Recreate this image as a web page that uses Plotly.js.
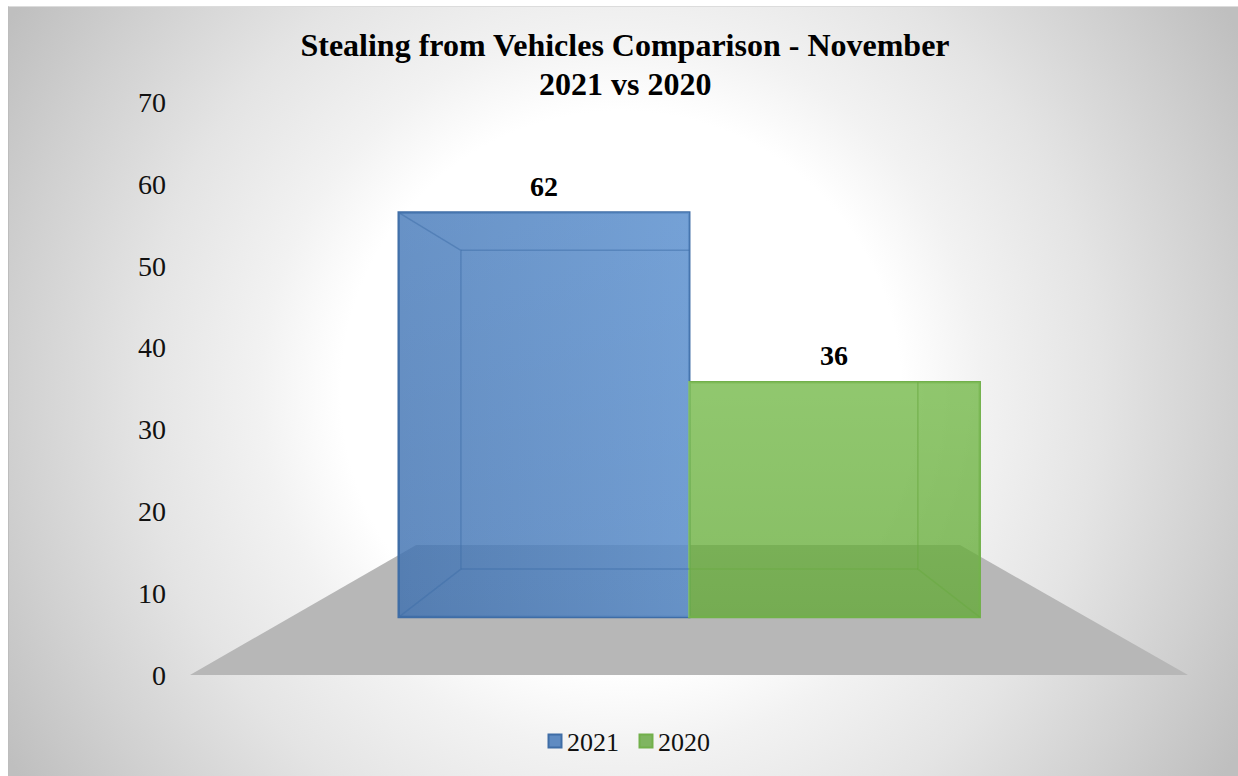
<!DOCTYPE html>
<html>
<head>
<meta charset="utf-8">
<script src="https://cdn.plot.ly/plotly-3.0.1.min.js"></script>
<style>
html,body{margin:0;padding:0;background:#fff;width:1238px;height:776px;overflow:hidden}
#frame{position:absolute;left:8px;top:6px;width:1230px;height:770px;border-top:1px solid #dcdcdc;border-left:1px solid #bdbdbd;box-sizing:border-box;
background:radial-gradient(circle at 612px 384px,#fff 0,#fff 280px,#f2f2f2 360px,#e4e4e4 480px,#d0d0d0 610px,#bfbfbf 715px)}
#chart{position:absolute;left:0;top:0;width:1238px;height:776px}
.legend .legendtext{transform:translateX(-8px)}
</style>
</head>
<body>
<div id="frame"></div>
<div id="chart"></div>
<script>
// Data
var categories = ['2021', '2020'];
var values = [62, 36];
var yTicks = [0, 10, 20, 30, 40, 50, 60, 70];
var titleLines = ['Stealing from Vehicles Comparison - November', '2021 vs 2020'];

// Pseudo-3D projection of the box chart onto the flat axes
var FRONT_BASE = 7.08, FRONT_SCALE = 0.797;
var BACK_BASE = 12.94, BACK_SCALE = 0.628;
var BACK_LEFT = -0.286, BACK_RIGHT = 1.287;
var FLOOR = {x0: -1.2186, x1: 2.217, bx0: -0.44, bx1: 1.432, back: 15.87};
var colors = ['rgba(62,112,176,0.82)', 'rgba(96,168,50,0.76)'];
var lines = ['#3f6da6', '#72b04b'];
var inner = ['rgba(61,109,168,0.5)', 'rgba(106,170,66,0.6)'];
var swatchFill = ['#5f8bc2', '#7fb560'];
var serif = '"Liberation Serif", serif';

function frontTop(v){ return FRONT_BASE + v * FRONT_SCALE; }
function backTop(v){ return BACK_BASE + v * BACK_SCALE; }

var traces = [];
categories.forEach(function(c, i){
  traces.push({
    type: 'bar', name: c, x: [i], y: [values[i] * FRONT_SCALE], base: [FRONT_BASE], width: [1],
    marker: {color: colors[i], line: {color: lines[i], width: 2.5}},
    hoverinfo: 'skip', showlegend: false
  });
});

function overlay(i, type, stops){
  var l = i - 0.5, r = i + 0.5, t = frontTop(values[i]);
  return {type: 'scatter', mode: 'none', x: [l, r, r, l, l], y: [FRONT_BASE, FRONT_BASE, t, t, FRONT_BASE],
    fill: 'toself', fillgradient: {type: type, colorscale: stops}, hoverinfo: 'skip', showlegend: false};
}
traces.push(overlay(0, 'horizontal', [[0, 'rgba(150,200,255,0)'], [1, 'rgba(150,200,255,0.28)']]));
traces.push(overlay(0, 'vertical', [[0, 'rgba(150,200,255,0)'], [1, 'rgba(150,200,255,0.13)']]));
traces.push(overlay(1, 'vertical', [[0, 'rgba(200,255,170,0)'], [1, 'rgba(200,255,170,0.16)']]));

function seg(xs, ys, color){
  return {type: 'scatter', mode: 'lines', x: xs, y: ys, line: {color: color, width: 1.5}, hoverinfo: 'skip', showlegend: false};
}
// blue box inner edges
var v0 = values[0], v1 = values[1];
traces.push(seg([-0.5, BACK_LEFT, BACK_LEFT, -0.5], [frontTop(v0), backTop(v0), BACK_BASE, FRONT_BASE], inner[0]));
traces.push(seg([BACK_LEFT, 0.5], [backTop(v0), backTop(v0)], inner[0]));
traces.push(seg([BACK_LEFT, 0.5], [BACK_BASE, BACK_BASE], inner[0]));
// green box inner edges
traces.push(seg([0.5, BACK_RIGHT], [BACK_BASE, BACK_BASE], inner[1]));
traces.push(seg([BACK_RIGHT, BACK_RIGHT, 1.5], [frontTop(v1), BACK_BASE, FRONT_BASE], inner[1]));

// legend entries with the reference's larger square swatches
categories.forEach(function(c, i){
  traces.push({type: 'scatter', mode: 'markers', name: c, x: [null], y: [null], hoverinfo: 'skip', showlegend: true,
    marker: {symbol: 'square', size: 13, color: swatchFill[i], line: {color: lines[i], width: 2}}});
});

var layout = {
  width: 1238, height: 776,
  margin: {l: 190, r: 50, t: 102, b: 101, pad: 0},
  paper_bgcolor: 'rgba(0,0,0,0)', plot_bgcolor: 'rgba(0,0,0,0)',
  font: {family: serif, color: '#000', size: 27},
  title: {text: titleLines[0], font: {family: serif, size: 32, weight: 700, color: '#000'},
    xref: 'container', yref: 'container', x: 625 / 1238, xanchor: 'center', y: 1 - 34 / 776, yanchor: 'top'},
  barmode: 'overlay',
  xaxis: {range: [FLOOR.x0, FLOOR.x1], showgrid: false, zeroline: false, showline: false, showticklabels: false, ticks: '', fixedrange: true},
  yaxis: {range: [0, 70], tickvals: yTicks, ticktext: yTicks.map(String), showgrid: false, zeroline: false, showline: false,
    ticks: '', ticklabelstandoff: 23, tickfont: {size: 28, color: '#111'}, fixedrange: true},
  legend: {orientation: 'h', x: 626 / 1238, xref: 'container', xanchor: 'center', y: 1 - 741 / 776, yref: 'container', yanchor: 'middle',
    font: {size: 26, color: '#111'}, bgcolor: 'rgba(0,0,0,0)', itemwidth: 30, traceorder: 'normal', entrywidth: 46, entrywidthmode: 'pixels'},
  showlegend: true,
  shapes: [{type: 'path', layer: 'below', xref: 'x', yref: 'y', line: {width: 0}, fillcolor: '#b7b7b7',
    path: 'M' + FLOOR.x0 + ',0 L' + FLOOR.x1 + ',0 L' + FLOOR.bx1 + ',' + FLOOR.back + ' L' + FLOOR.bx0 + ',' + FLOOR.back + ' Z'}],
  annotations: values.map(function(v, i){
    return {x: i, y: frontTop(v), xref: 'x', yref: 'y', text: String(v), showarrow: false, yanchor: 'bottom', yshift: 9,
      font: {size: 28, weight: 700, color: '#000'}};
  }).concat([{xref: 'paper', yref: 'paper', x: (625 - 190) / 998, y: (776 - 101 - 84) / 573, yanchor: 'middle', xanchor: 'center', showarrow: false,
    text: titleLines[1], font: {family: serif, size: 32, weight: 700, color: '#000'}}])
};
Plotly.newPlot('chart', traces, layout, {displayModeBar: false, staticPlot: true});
</script>
</body>
</html>
